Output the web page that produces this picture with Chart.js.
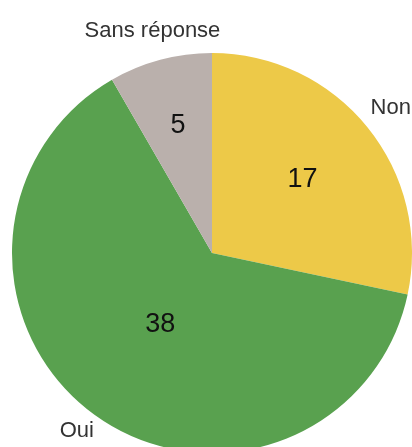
<!DOCTYPE html>
<html>
<head>
<meta charset="utf-8">
<script src="https://cdn.jsdelivr.net/npm/chart.js@4/dist/chart.umd.min.js"></script>
<style>
  html, body { margin: 0; padding: 0; background: #fff; overflow: hidden; }
  #wrap { width: 412px; height: 460px; }
</style>
</head>
<body>
<div id="wrap"><canvas id="myChart" width="412" height="460"></canvas></div>
<script>
const labels = ["Non", "Oui", "Sans réponse"];
const counts = [17, 38, 5];
const colors = ["#EDC948", "#59A14F", "#BAB0AC"];

const FONT = "'Liberation Sans', Arial, sans-serif";

// writes the count inside each slice and the category name outside it
const sliceLabels = {
  id: "sliceLabels",
  afterDatasetsDraw(chart) {
    const ctx = chart.ctx;
    const meta = chart.getDatasetMeta(0);
    const viewH = window.innerHeight;
    ctx.save();
    ctx.textBaseline = "middle";
    ctx.textAlign = "center";
    meta.data.forEach((arc, i) => {
      const { x, y, startAngle, endAngle, outerRadius } = arc.getProps(
        ["x", "y", "startAngle", "endAngle", "outerRadius"], true);
      const span = endAngle - startAngle;
      const mid = startAngle + span / 2;

      // value at the sector's centroid, kept away from the middle for big slices
      let d = 4 * outerRadius * Math.sin(span / 2) / (3 * span);
      d = Math.max(d, 0.44 * outerRadius);
      ctx.fillStyle = "#111";
      ctx.font = "27px " + FONT;
      ctx.fillText(String(counts[i]), x + d * Math.cos(mid), y + d * Math.sin(mid));

      // name outside the rim, pulled back up if it would fall off the page
      const r = outerRadius + 30;
      let lx = x + r * Math.cos(mid);
      let ly = y + r * Math.sin(mid);
      ly = Math.min(ly, viewH - 16);
      ctx.fillStyle = "#333";
      ctx.font = "22px " + FONT;
      ctx.fillText(labels[i], lx, ly);
    });
    ctx.restore();
  }
};

new Chart(document.getElementById("myChart"), {
  type: "pie",
  data: {
    labels,
    datasets: [{
      data: counts,
      backgroundColor: colors,
      borderWidth: 0,
      hoverOffset: 0
    }]
  },
  options: {
    responsive: false,
    animation: false,
    layout: { padding: { top: 53, left: 12, right: 0, bottom: 7 } },
    plugins: {
      legend: { display: false },
      tooltip: { enabled: false }
    }
  },
  plugins: [sliceLabels]
});
</script>
</body>
</html>
